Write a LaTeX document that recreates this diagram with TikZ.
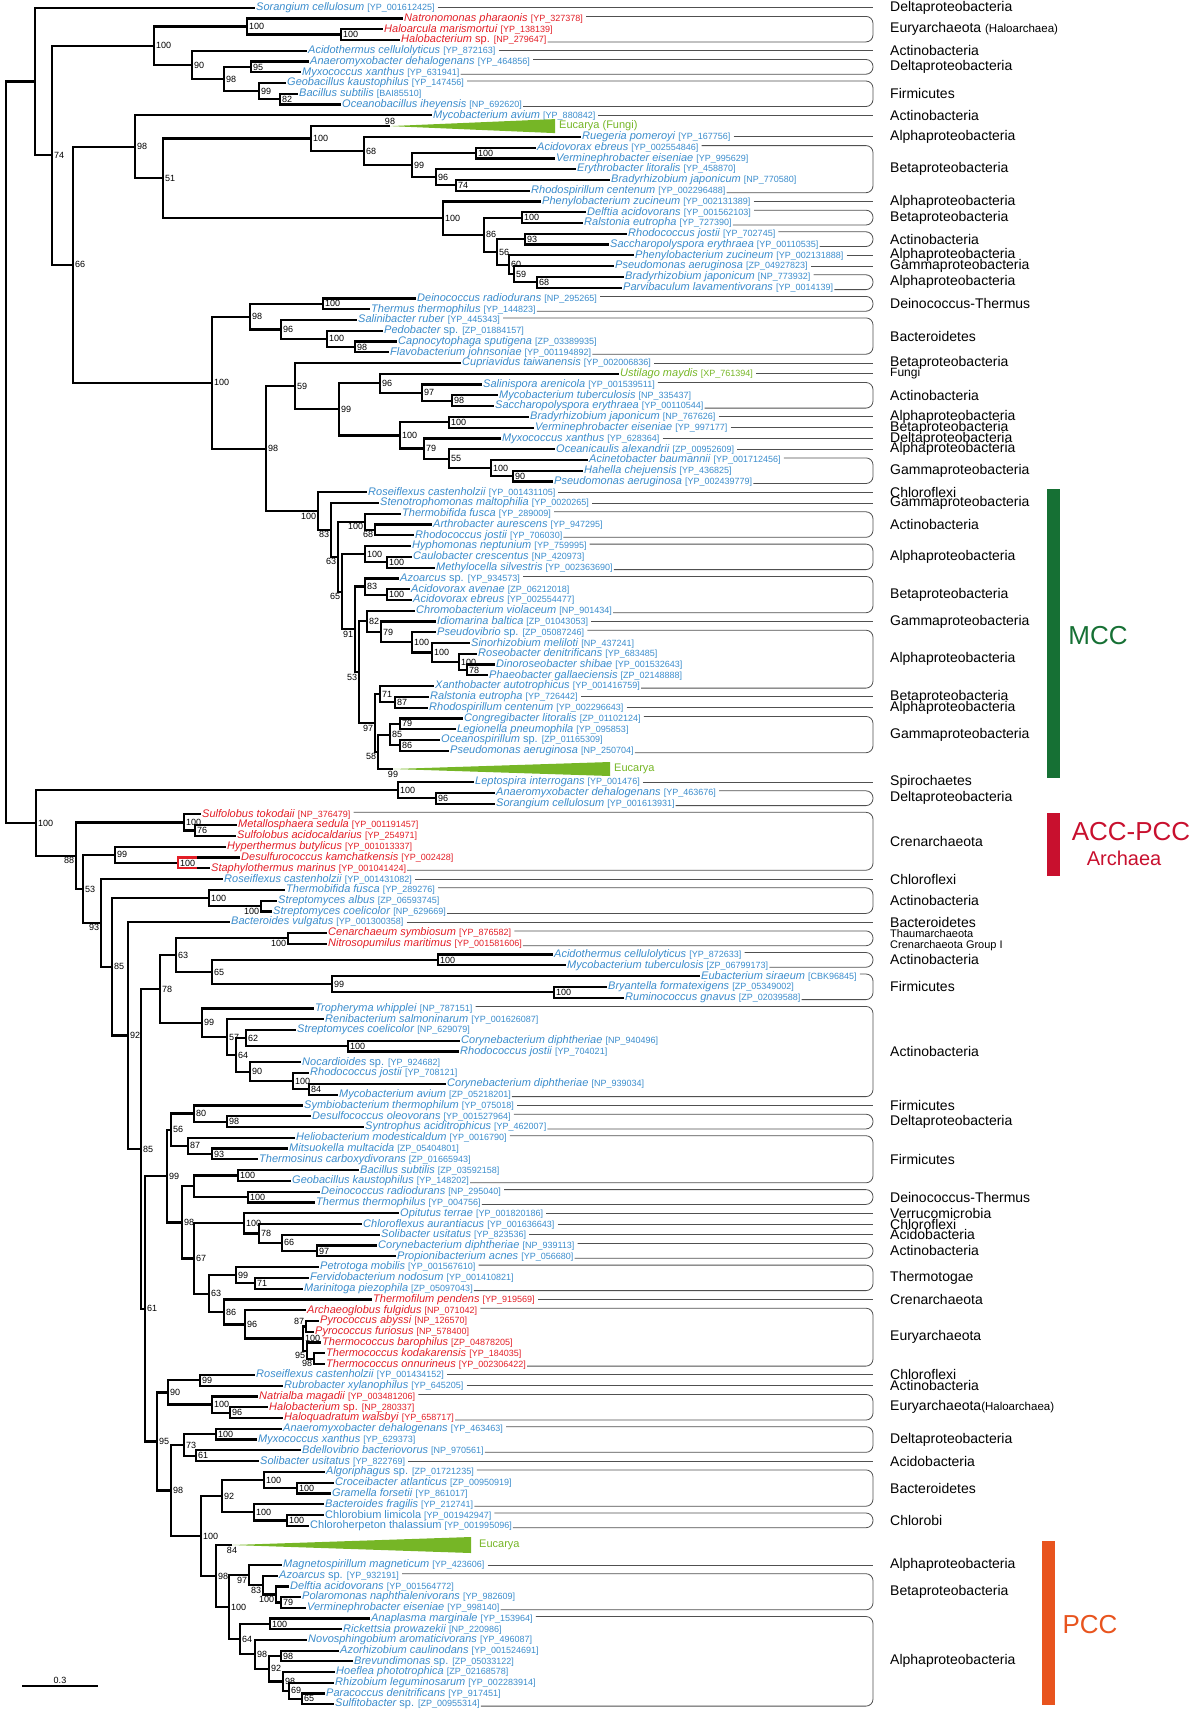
\documentclass[tikz,border=0pt]{standalone}
\usepackage{fontspec}
\setmainfont{Liberation Sans}
\usepackage{xcolor}
\usepackage{tikz}

\definecolor{bact}{RGB}{58,140,204}
\definecolor{arch}{RGB}{226,30,38}
\definecolor{euk}{RGB}{118,182,38}
\definecolor{mccgreen}{RGB}{22,112,52}
\definecolor{accred}{RGB}{200,16,46}
\definecolor{pccorange}{RGB}{232,84,30}
\definecolor{linegray}{RGB}{80,80,80}

\newcommand{\leaffont}{\fontsize{11}{12}\selectfont}
\newcommand{\accfont}{\fontsize{9}{10}\selectfont}
\newcommand{\bsfont}{\fontsize{9}{10}\selectfont}
\newcommand{\grpfont}{\fontsize{14}{15}\selectfont}
\newcommand{\tx}[2]{\textit{#1} {\accfont[#2]}}
\newcommand{\txu}[2]{#1 {\accfont[#2]}}
% leaf: colour, name, x, y, text
\newcommand{\lf}[5][bact]{\coordinate (#2) at (#3,#4);
  \node[leaf,text=#1] (#2t) at (#2) {#5};}
% inner node: label position, name, x, y, support
\newcommand{\nd}[5][right]{\coordinate[label={[bs,name=#2-bs]#1:#5}] (#2) at (#3,#4);}
% right-hand taxon labels
\newcommand{\gone}[2]{\draw[con] (#1t.east) -- (#1t.east -| rx);
  \node[grplab] (#1g) at (gx |- #1) {#2};}
\newcommand{\gtwo}[4]{\draw[con] ([yshift=2pt]#1t.east) -- ([yshift=2pt]#1t.east -| rx)
  -- ([yshift=-2pt]#2t.east -| rx) -- ([yshift=-2pt]#2t.east);
  \node[grplab] (#1g) at (890,#3) {#4};}

\tikzset{
  leaf/.style={anchor=west, inner sep=1pt, font=\leaffont},
  bs/.style={inner sep=1pt, font=\bsfont},
  br/.style={line width=2.2pt},
  con/.style={draw=linegray, line width=0.8pt, rounded corners=7pt, shorten <=2pt},
  grplab/.style={anchor=west, inner sep=0pt, font=\grpfont},
  bigtxt/.style={inner sep=0pt, font=\fontsize{26}{28}\selectfont},
}

\begin{document}
\begin{tikzpicture}[x=1pt, y=-1pt, label distance=0.8pt]
\useasboundingbox (0,0) rectangle (1200,1711);
\coordinate (rx) at (873,0);
\coordinate (gx) at (890,0);

% ---------------- leaves, upper part
\lf{sor1}{255}{7.6}{\tx{Sorangium cellulosum}{YP\_001612425}}
\lf[arch]{nat}{403}{18.4}{\tx{Natronomonas pharaonis}{YP\_327378}}
\lf[arch]{har}{383}{29.1}{\tx{Haloarcula marismortui}{YP\_138139}}
\lf[arch]{hal1}{400}{39.9}{\tx{Halobacterium \upshape sp.}{NP\_279647}}
\lf{aci1}{307}{50.7}{\tx{Acidothermus cellulolyticus}{YP\_872163}}
\lf{ana1}{309}{61.5}{\tx{Anaeromyxobacter dehalogenans}{YP\_464856}}
\lf{myx1}{301}{72.2}{\tx{Myxococcus xanthus}{YP\_631941}}
\lf{geo1}{286}{83.0}{\tx{Geobacillus kaustophilus}{YP\_147456}}
\lf{bac1}{298}{93.8}{\tx{Bacillus subtilis}{BAI85510}}
\lf{oce}{341}{104.5}{\tx{Oceanobacillus iheyensis}{NP\_692620}}
\lf{myc1}{432}{115.3}{\tx{Mycobacterium avium}{YP\_880842}}
\lf{rue}{581}{136.8}{\tx{Ruegeria pomeroyi}{YP\_167756}}
\lf{acd1}{536}{147.6}{\tx{Acidovorax ebreus}{YP\_002554846}}
\lf{ver1}{555}{158.4}{\tx{Verminephrobacter eiseniae}{YP\_995629}}
\lf{ery}{576}{169.1}{\tx{Erythrobacter litoralis}{YP\_458870}}
\lf{bra1}{610}{179.9}{\tx{Bradyrhizobium japonicum}{NP\_770580}}
\lf{rho1}{530}{190.7}{\tx{Rhodospirillum centenum}{YP\_002296488}}
\lf{phe1}{541}{201.5}{\tx{Phenylobacterium zucineum}{YP\_002131389}}
\lf{del1}{586}{212.2}{\tx{Delftia acidovorans}{YP\_001562103}}
\lf{ral1}{583}{223.0}{\tx{Ralstonia eutropha}{YP\_727390}}
\lf{rhc1}{627}{233.8}{\tx{Rhodococcus jostii}{YP\_702745}}
\lf{sac1}{609}{244.5}{\tx{Saccharopolyspora erythraea}{YP\_00110535}}
\lf{phe2}{634}{255.3}{\tx{Phenylobacterium zucineum}{YP\_002131888}}
\lf{pse1}{614}{266.1}{\tx{Pseudomonas aeruginosa}{ZP\_04927823}}
\lf{bra2}{624}{276.8}{\tx{Bradyrhizobium japonicum}{NP\_773932}}
\lf{par}{622}{287.6}{\tx{Parvibaculum lavamentivorans}{YP\_0014139}}
\lf{dei1}{416}{298.4}{\tx{Deinococcus radiodurans}{NP\_295265}}
\lf{the1}{370}{309.2}{\tx{Thermus thermophilus}{YP\_144823}}
\lf{sal}{357}{319.9}{\tx{Salinibacter ruber}{YP\_445343}}
\lf{ped}{383}{330.7}{\tx{Pedobacter \upshape sp.}{ZP\_01884157}}
\lf{cap}{397}{341.5}{\tx{Capnocytophaga sputigena}{ZP\_03389935}}
\lf{fla}{389}{352.2}{\tx{Flavobacterium johnsoniae}{YP\_001194892}}
\lf{cup}{461}{363.0}{\tx{Cupriavidus taiwanensis}{YP\_002006836}}
\lf[euk]{ust}{619}{373.8}{\tx{Ustilago maydis}{XP\_761394}}
\lf{sap}{482}{384.5}{\tx{Salinispora arenicola}{YP\_001539511}}
\lf{myc2}{498}{395.3}{\tx{Mycobacterium tuberculosis}{NP\_335437}}
\lf{sac2}{494}{406.1}{\tx{Saccharopolyspora erythraea}{YP\_00110544}}
\lf{bra3}{529}{416.8}{\tx{Bradyrhizobium japonicum}{NP\_767626}}
\lf{ver2}{534}{427.6}{\tx{Verminephrobacter eiseniae}{YP\_997177}}
\lf{myx2}{501}{438.4}{\tx{Myxococcus xanthus}{YP\_628364}}
\lf{ocn}{555}{449.2}{\tx{Oceanicaulis alexandrii}{ZP\_00952609}}
\lf{acn}{588}{459.9}{\tx{Acinetobacter baumannii}{YP\_001712456}}
\lf{hah}{583}{470.7}{\tx{Hahella chejuensis}{YP\_436825}}
\lf{pse2}{553}{481.5}{\tx{Pseudomonas aeruginosa}{YP\_002439779}}
\lf{ros1}{367}{492.2}{\tx{Roseiflexus castenholzii}{YP\_001431105}}
\lf{ste}{379}{503.0}{\tx{Stenotrophomonas maltophilia}{YP\_0020265}}
\lf{thf1}{401}{513.8}{\tx{Thermobifida fusca}{YP\_289009}}
\lf{art}{432}{524.5}{\tx{Arthrobacter aurescens}{YP\_947295}}
\lf{rhc2}{414}{535.3}{\tx{Rhodococcus jostii}{YP\_706030}}
\lf{hyp}{411}{546.1}{\tx{Hyphomonas neptunium}{YP\_759995}}
\lf{cau}{412}{556.8}{\tx{Caulobacter crescentus}{NP\_420973}}
\lf{met}{435}{567.6}{\tx{Methylocella silvestris}{YP\_002363690}}
\lf{azo1}{399}{578.4}{\tx{Azoarcus \upshape sp.}{YP\_934573}}
\lf{acd2}{410}{589.2}{\tx{Acidovorax avenae}{ZP\_06212018}}
\lf{acd3}{412}{599.9}{\tx{Acidovorax ebreus}{YP\_002554477}}
\lf{chr}{415}{610.7}{\tx{Chromobacterium violaceum}{NP\_901434}}
\lf{idi}{436}{621.5}{\tx{Idiomarina baltica}{ZP\_01043053}}
\lf{psv}{436}{632.2}{\tx{Pseudovibrio \upshape sp.}{ZP\_05087246}}
\lf{sin}{470}{643.0}{\tx{Sinorhizobium meliloti}{NP\_437241}}
\lf{rsb}{477}{653.8}{\tx{Roseobacter denitrificans}{YP\_683485}}
\lf{din}{495}{664.5}{\tx{Dinoroseobacter shibae}{YP\_001532643}}
\lf{pha}{488}{675.3}{\tx{Phaeobacter gallaeciensis}{ZP\_02148888}}
\lf{xan}{434}{686.1}{\tx{Xanthobacter autotrophicus}{YP\_001416759}}
\lf{ral2}{429}{696.8}{\tx{Ralstonia eutropha}{YP\_726442}}
\lf{rho2}{428}{707.6}{\tx{Rhodospirillum centenum}{YP\_002296643}}
\lf{con}{463}{718.4}{\tx{Congregibacter litoralis}{ZP\_01102124}}
\lf{leg}{456}{729.2}{\tx{Legionella pneumophila}{YP\_095853}}
\lf{ocs}{440}{739.9}{\tx{Oceanospirillum \upshape sp.}{ZP\_01165309}}
\lf{pse3}{449}{750.7}{\tx{Pseudomonas aeruginosa}{NP\_250704}}
\lf{lep}{474}{782.0}{\tx{Leptospira interrogans}{YP\_001476}}
\lf{ana2}{495}{792.8}{\tx{Anaeromyxobacter dehalogenans}{YP\_463676}}
\lf{sor2}{495}{803.6}{\tx{Sorangium cellulosum}{YP\_001613931}}

% ---------------- leaves, lower part
\lf[arch]{sut}{201}{814.3}{\tx{Sulfolobus tokodaii}{NP\_376479}}
\lf[arch]{mes}{237}{825.1}{\tx{Metallosphaera sedula}{YP\_001191457}}
\lf[arch]{sua}{236}{835.9}{\tx{Sulfolobus acidocaldarius}{YP\_254971}}
\lf[arch]{hyt}{226}{846.7}{\tx{Hyperthermus butylicus}{YP\_001013337}}
\lf[arch]{dsk}{240}{857.5}{\tx{Desulfurococcus kamchatkensis}{YP\_002428}}
\lf[arch]{stm}{210}{868.2}{\tx{Staphylothermus marinus}{YP\_001041424}}
\lf{ros2}{223}{879.0}{\tx{Roseiflexus castenholzii}{YP\_001431082}}
\lf{thf2}{285}{889.8}{\tx{Thermobifida fusca}{YP\_289276}}
\lf{sta}{277}{900.6}{\tx{Streptomyces albus}{ZP\_06593745}}
\lf{stc1}{272}{911.4}{\tx{Streptomyces coelicolor}{NP\_629669}}
\lf{bav}{230}{922.1}{\tx{Bacteroides vulgatus}{YP\_001300358}}
\lf[arch]{cen}{327}{932.9}{\tx{Cenarchaeum symbiosum}{YP\_876582}}
\lf[arch]{nit}{327}{943.7}{\tx{Nitrosopumilus maritimus}{YP\_001581606}}
\lf{aci2}{553}{954.5}{\tx{Acidothermus cellulolyticus}{YP\_872633}}
\lf{myc3}{566}{965.2}{\tx{Mycobacterium tuberculosis}{ZP\_06799173}}
\lf{eub}{700}{976.0}{\tx{Eubacterium siraeum}{CBK96845}}
\lf{bry}{607}{986.8}{\tx{Bryantella formatexigens}{ZP\_05349002}}
\lf{rum}{624}{997.6}{\tx{Ruminococcus gnavus}{ZP\_02039588}}
\lf{tro}{314}{1008.4}{\tx{Tropheryma whipplei}{NP\_787151}}
\lf{ren}{324}{1019.2}{\tx{Renibacterium salmoninarum}{YP\_001626087}}
\lf{stc2}{296}{1029.9}{\tx{Streptomyces coelicolor}{NP\_629079}}
\lf{cor1}{460}{1040.7}{\tx{Corynebacterium diphtheriae}{NP\_940496}}
\lf{rhc3}{459}{1051.5}{\tx{Rhodococcus jostii}{YP\_704021}}
\lf{noc}{301}{1062.3}{\tx{Nocardioides \upshape sp.}{YP\_924682}}
\lf{rhc4}{309}{1073.1}{\tx{Rhodococcus jostii}{YP\_708121}}
\lf{cor2}{446}{1083.8}{\tx{Corynebacterium diphtheriae}{NP\_939034}}
\lf{myc4}{338}{1094.6}{\tx{Mycobacterium avium}{ZP\_05218201}}
\lf{sym}{303}{1105.4}{\tx{Symbiobacterium thermophilum}{YP\_075018}}
\lf{dso}{311}{1116.2}{\tx{Desulfococcus oleovorans}{YP\_001527964}}
\lf{syn}{364}{1126.9}{\tx{Syntrophus aciditrophicus}{YP\_462007}}
\lf{hel}{295}{1137.7}{\tx{Heliobacterium modesticaldum}{YP\_0016790}}
\lf{mit}{288}{1148.5}{\tx{Mitsuokella multacida}{ZP\_05404801}}
\lf{ths}{258}{1159.3}{\tx{Thermosinus carboxydivorans}{ZP\_01665943}}
\lf{bac2}{359}{1170.1}{\tx{Bacillus subtilis}{ZP\_03592158}}
\lf{geo2}{291}{1180.8}{\tx{Geobacillus kaustophilus}{YP\_148202}}
\lf{dei2}{320}{1191.6}{\tx{Deinococcus radiodurans}{NP\_295040}}
\lf{the2}{315}{1202.4}{\tx{Thermus thermophilus}{YP\_004756}}
\lf{opi}{399}{1213.2}{\tx{Opitutus terrae}{YP\_001820186}}
\lf{chf}{362}{1224.0}{\tx{Chloroflexus aurantiacus}{YP\_001636643}}
\lf{sol1}{380}{1234.7}{\tx{Solibacter usitatus}{YP\_823536}}
\lf{cor3}{377}{1245.5}{\tx{Corynebacterium diphtheriae}{NP\_939113}}
\lf{pro}{396}{1256.3}{\tx{Propionibacterium acnes}{YP\_056680}}
\lf{pet}{319}{1267.1}{\tx{Petrotoga mobilis}{YP\_001567610}}
\lf{fer}{309}{1277.8}{\tx{Fervidobacterium nodosum}{YP\_001410821}}
\lf{mar}{303}{1288.6}{\tx{Marinitoga piezophila}{ZP\_05097043}}
\lf[arch]{tfp}{372}{1299.4}{\tx{Thermofilum pendens}{YP\_919569}}
\lf[arch]{arg}{306}{1310.2}{\tx{Archaeoglobus fulgidus}{NP\_071042}}
\lf[arch]{pya}{319}{1321.0}{\tx{Pyrococcus abyssi}{NP\_126570}}
\lf[arch]{pyf}{314}{1331.7}{\tx{Pyrococcus furiosus}{NP\_578400}}
\lf[arch]{tcb}{321}{1342.5}{\tx{Thermococcus barophilus}{ZP\_04878205}}
\lf[arch]{tck}{325}{1353.3}{\tx{Thermococcus kodakarensis}{YP\_184035}}
\lf[arch]{tco}{325}{1364.1}{\tx{Thermococcus onnurineus}{YP\_002306422}}
\lf{ros3}{255}{1374.8}{\tx{Roseiflexus castenholzii}{YP\_001434152}}
\lf{rub}{283}{1385.6}{\tx{Rubrobacter xylanophilus}{YP\_645205}}
\lf[arch]{nab}{258}{1396.4}{\tx{Natrialba magadii}{YP\_003481206}}
\lf[arch]{hal2}{268}{1407.2}{\tx{Halobacterium \upshape sp.}{NP\_280337}}
\lf[arch]{hqw}{283}{1418.0}{\tx{Haloquadratum walsbyi}{YP\_658717}}
\lf{ana3}{282}{1428.7}{\tx{Anaeromyxobacter dehalogenans}{YP\_463463}}
\lf{myx3}{257}{1439.5}{\tx{Myxococcus xanthus}{YP\_629373}}
\lf{bde}{301}{1450.3}{\tx{Bdellovibrio bacteriovorus}{NP\_970561}}
\lf{sol2}{259}{1461.1}{\tx{Solibacter usitatus}{YP\_822769}}
\lf{alg}{325}{1471.9}{\tx{Algoriphagus \upshape sp.}{ZP\_01721235}}
\lf{cro}{334}{1482.6}{\tx{Croceibacter atlanticus}{ZP\_00950919}}
\lf{gra}{331}{1493.4}{\tx{Gramella forsetii}{YP\_861017}}
\lf{baf}{324}{1504.2}{\tx{Bacteroides fragilis}{YP\_212741}}
\lf{chl}{324}{1515.0}{\txu{Chlorobium limicola}{YP\_001942947}}
\lf{chh}{309}{1525.7}{\txu{Chloroherpeton thalassium}{YP\_001995096}}
\lf{mag}{282}{1565.0}{\tx{Magnetospirillum magneticum}{YP\_423606}}
\lf{azo2}{278}{1575.7}{\tx{Azoarcus \upshape sp.}{YP\_932191}}
\lf{del2}{289}{1586.4}{\tx{Delftia acidovorans}{YP\_001564772}}
\lf{pol}{301}{1597.1}{\tx{Polaromonas naphthalenivorans}{YP\_982609}}
\lf{ver3}{306}{1607.8}{\tx{Verminephrobacter eiseniae}{YP\_998140}}
\lf{ana4}{370}{1618.5}{\tx{Anaplasma marginale}{YP\_153964}}
\lf{ric}{342}{1629.2}{\tx{Rickettsia prowazekii}{NP\_220986}}
\lf{nov}{307}{1639.9}{\tx{Novosphingobium aromaticivorans}{YP\_496087}}
\lf{azr}{339}{1650.6}{\tx{Azorhizobium caulinodans}{YP\_001524691}}
\lf{bre}{353}{1661.3}{\tx{Brevundimonas \upshape sp.}{ZP\_05033122}}
\lf{hoe}{335}{1672.0}{\tx{Hoeflea phototrophica}{ZP\_02168578}}
\lf{rhz}{334}{1682.7}{\tx{Rhizobium leguminosarum}{YP\_002283914}}
\lf{prc}{325}{1693.4}{\tx{Paracoccus denitrificans}{YP\_917451}}
\lf{sul}{334}{1704.1}{\tx{Sulfitobacter \upshape sp.}{ZP\_00955314}}

% ---------------- collapsed Eucarya clades
\nd[above]{euk1}{390}{126.1}{98}
\nd[below]{euk2}{393}{769}{99}
\nd[below]{euk3}{232}{1545}{84}
\fill[euk] (euk1) -- ++(165,-7) -- ++(0,14) -- cycle;
\fill[euk] (euk2) -- ++(217,-7) -- ++(0,14) -- cycle;
\fill[euk] (euk3) -- ++(239,-8) -- ++(0,16) -- cycle;
\node[leaf,text=euk] (euk1t) at ([xshift=168pt]euk1) {Eucarya (Fungi)};
\node[leaf,text=euk] (euk2t) at ([xshift=220pt]euk2) {Eucarya};
\node[leaf,text=euk] (euk3t) at ([xshift=246pt]euk3) {Eucarya};

% ---------------- inner nodes, upper part
\coordinate (root) at (6,452);
\coordinate (top) at (35,81.4);
\nd{a74}{52}{155.2}{74}
\nd{a100h}{154}{45.7}{100}
\nd{halo}{247}{26.5}{100}
\nd{halo2}{341}{34.5}{100}
\nd{a90}{192}{64.9}{90}
\nd{a98f}{224}{79}{98}
\nd{myxo}{251}{66.9}{95}
\nd{bacil}{259}{91.1}{99}
\nd{bacil2}{280}{99.2}{82}
\nd{a66}{73}{264.7}{66}
\nd{a98}{135}{146.8}{98}
\nd{a51}{163}{178.3}{51}
\nd{fungi}{311}{138.5}{100}
\nd{a68}{364}{151}{68}
\nd{a99}{412}{165.1}{99}
\nd{beta1}{476}{153}{100}
\nd{a96}{436}{177.2}{96}
\nd{a74b}{456}{185.3}{74}
\nd{a100c}{443}{218.2}{100}
\nd{a86}{484}{234.8}{86}
\nd{beta2}{522}{217.6}{100}
\nd{a56}{497}{252}{56}
\nd{actino1}{525}{239.2}{93}
\nd{a60}{509}{264.7}{60}
\nd{a59}{514}{274.2}{59}
\nd{a68b}{537}{282.2}{68}
\nd{a100b}{212}{382.6}{100}
\nd{a98b}{250}{316.6}{98}
\nd{deino1}{323}{303.8}{100}
\nd{a96b}{281}{329.4}{96}
\nd{a100f}{327}{338.8}{100}
\nd{a98d}{355}{346.9}{98}
\nd{a98c}{266}{448.6}{98}
\nd{a59b}{295}{386.2}{59}
\nd{a99b}{339}{409.3}{99}
\nd{a96c}{380}{383.2}{96}
\nd{a97}{422}{392.6}{97}
\nd{a98e}{452}{400.7}{98}
\nd{a100h2}{400}{435.4}{100}
\nd{a100i}{449}{422.2}{100}
\nd{a79}{424}{448.5}{79}
\nd{a55}{449}{458.6}{55}
\nd{gamma1}{491}{468}{100}
\nd{a90b}{513}{476.1}{90}
% MCC clade
\nd[below left]{mcc}{318}{511}{100}
\nd[below left]{m83}{331}{529.9}{83}
\nd[below left]{m63}{338}{556.8}{63}
\nd[below left]{actino2}{365}{521.9}{100}
\nd[below left]{m68}{375}{529.9}{68}
\nd[below left]{m65}{342}{591.6}{65}
\nd{alpha1}{365}{554.2}{100}
\nd{m100}{387}{562.2}{100}
\nd[below left]{m91}{355}{629}{91}
\nd{beta3}{365}{586.5}{83}
\nd{m100b}{387}{594.6}{100}
\nd[below left]{m53}{359}{672}{53}
\nd{m82}{367}{621.3}{82}
\nd{m79}{381}{631.9}{79}
\nd{roseo1}{412}{642.3}{100}
\nd{roseo2}{432}{652.4}{100}
\nd{roseo3}{459}{661.9}{100}
\nd{roseo4}{467}{669.9}{78}
\nd[below left]{m97}{375}{723}{97}
\nd{m71}{380}{694.2}{71}
\nd{m87}{395}{702.2}{87}
\nd[below left]{m58}{378}{751.8}{58}
\nd{gamma2}{390}{734.6}{85}
\nd{m79b}{400}{723.8}{79}
\nd{m86}{400}{745.3}{86}

% ---------------- inner nodes, lower part
\nd{bot}{36}{822.9}{100}
\nd{spiro}{398}{790.1}{100}
\nd{delta1}{436}{798.2}{96}
\nd[below left]{b88}{76}{855.6}{88}
\nd{sulfo}{184}{822.4}{100}
\nd{sulfo2}{195}{830.5}{76}
\nd{b53}{83}{888.9}{53}
\nd{desulf}{115}{854.8}{99}
\nd{desulf2}{178}{862.9}{100}
\nd[below left]{b93}{101}{922.9}{93}
\nd{b85}{112}{966.7}{85}
\nd{strep}{209}{897.9}{100}
\nd[below left]{strep2}{261}{906}{100}
\nd{b92}{128}{1035.5}{92}
\nd{b85b}{141}{1148.9}{85}
\nd{b78}{160}{989}{78}
\nd{b63}{176}{955.2}{63}
\nd[below left]{thaum}{288}{938.3}{100}
\nd{b65}{212}{972}{65}
\nd{actino4}{438}{959.9}{100}
\nd{firm1}{332}{984.1}{99}
\nd{firm2}{554}{992.2}{100}
\nd{actino3}{202}{1022.7}{99}
\nd{b57}{227}{1037}{57}
\nd{b64}{236}{1054.9}{64}
\nd{b62}{246}{1038}{62}
\nd{coryn1}{348}{1046.1}{100}
\nd{b90}{250}{1071.8}{90}
\nd{coryn2}{293}{1081.2}{100}
\nd{coryn3}{309}{1089.2}{84}
\nd{b61}{145}{1308.7}{61}
\nd{b99}{167}{1176}{99}
\nd{b56}{171}{1129.7}{56}
\nd{b80}{194}{1113.5}{80}
\nd{delta2}{227}{1121.6}{98}
\nd{b87}{188}{1145.8}{87}
\nd{b93b}{212}{1153.9}{93}
\nd{b98}{182}{1222.4}{98}
\coordinate (bq) at (194,1186.2);
\nd{bacil3}{238}{1175.5}{100}
\nd{deino2}{248}{1197}{100}
\nd{b67}{194}{1258.5}{67}
\nd{b100}{244}{1223.3}{100}
\nd{b78b}{259}{1233.4}{78}
\nd{b66}{282}{1242.8}{66}
\nd{b97}{317}{1250.9}{97}
\nd{b63b}{209}{1293.6}{63}
\nd{thermo}{236}{1275.2}{99}
\nd{thermo2}{255}{1283.2}{71}
\nd{b86}{224}{1311.9}{86}
\nd{b96}{245}{1324.4}{96}
\nd{pyro}{303}{1338.5}{100}
\nd[above left]{pyro2}{306}{1326.4}{87}
\nd[below left]{tcoc}{307}{1350.6}{95}
\nd[below left]{tcoc2}{314}{1358.7}{98}
\nd{b95}{157}{1441.4}{95}
\nd{b90b}{168}{1392.4}{90}
\nd{b99b}{200}{1380.2}{99}
\nd{halo3}{212}{1404.5}{100}
\nd{halo4}{230}{1412.6}{96}
\nd{b98b}{171}{1490.5}{98}
\nd{b73}{184}{1444.9}{73}
\nd{myxo2}{216}{1434.1}{100}
\nd{b61b}{196}{1455.7}{61}
\nd{b100b}{201}{1536}{100}
\nd{b92b}{222}{1496.2}{92}
\nd{bacter1}{264}{1480}{100}
\nd{bacter2}{297}{1488}{100}
\nd{bacter3}{254}{1512.3}{100}
\nd{chlor}{287}{1520.4}{100}
\nd{b98c}{216}{1576}{98}
\nd{pcc}{229}{1607}{100}
\nd[below left]{p97}{249}{1575}{97}
\nd[below left]{p83}{263}{1585.1}{83}
\nd[below left]{p100}{276}{1594.5}{100}
\nd{p79}{281}{1602.5}{79}
\nd{p64}{240}{1639.1}{64}
\nd{rick}{270}{1623.9}{100}
\nd{p98}{255}{1654.3}{98}
\nd{p92}{269}{1668.7}{92}
\nd{p98b}{281}{1656}{98}
\nd{p98c}{283}{1681.4}{98}
\nd{p69}{289}{1690.8}{69}
\nd{p65}{302}{1698.8}{65}

% ---------------- branches
\draw[br] (root) |- (top) (root) |- (bot);
\draw[br] (top) |- (sor1) (top) |- (a74);
\draw[br] (a74) |- (a100h) (a74) |- (a66);
\draw[br] (a100h) |- (halo) (a100h) |- (a90);
\draw[br] (halo) |- (nat) (halo) |- (halo2);
\draw[br] (halo2) |- (har) (halo2) |- (hal1);
\draw[br] (a90) |- (aci1) (a90) |- (a98f);
\draw[br] (a98f) |- (myxo) (a98f) |- (bacil);
\draw[br] (myxo) |- (ana1) (myxo) |- (myx1);
\draw[br] (bacil) |- (geo1) (bacil) |- (bacil2);
\draw[br] (bacil2) |- (bac1) (bacil2) |- (oce);
\draw[br] (a66) |- (a98) (a66) |- (a100b);
\draw[br] (a98) |- (myc1) (a98) |- (a51);
\draw[br] (a51) |- (fungi) (a51) |- (a100c);
\draw[br] (fungi) |- (euk1) (fungi) |- (a68);
\draw[br] (a68) |- (rue) (a68) |- (a99);
\draw[br] (a99) |- (beta1) (a99) |- (a96);
\draw[br] (beta1) |- (acd1) (beta1) |- (ver1);
\draw[br] (a96) |- (ery) (a96) |- (a74b);
\draw[br] (a74b) |- (bra1) (a74b) |- (rho1);
\draw[br] (a100c) |- (phe1) (a100c) |- (a86);
\draw[br] (a86) |- (beta2) (a86) |- (a56);
\draw[br] (beta2) |- (del1) (beta2) |- (ral1);
\draw[br] (a56) |- (actino1) (a56) |- (a60);
\draw[br] (actino1) |- (rhc1) (actino1) |- (sac1);
\draw[br] (a60) |- (phe2) (a60) |- (a59);
\draw[br] (a59) |- (pse1) (a59) |- (a68b);
\draw[br] (a68b) |- (bra2) (a68b) |- (par);
\draw[br] (a100b) |- (a98b) (a100b) |- (a98c);
\draw[br] (a98b) |- (deino1) (a98b) |- (a96b);
\draw[br] (deino1) |- (dei1) (deino1) |- (the1);
\draw[br] (a96b) |- (sal) (a96b) |- (a100f);
\draw[br] (a100f) |- (ped) (a100f) |- (a98d);
\draw[br] (a98d) |- (cap) (a98d) |- (fla);
\draw[br] (a98c) |- (a59b) (a98c) |- (mcc);
\draw[br] (a59b) |- (cup) (a59b) |- (a99b);
\draw[br] (a99b) |- (a96c) (a99b) |- (a100h2);
\draw[br] (a96c) |- (ust) (a96c) |- (a97);
\draw[br] (a97) |- (sap) (a97) |- (a98e);
\draw[br] (a98e) |- (myc2) (a98e) |- (sac2);
\draw[br] (a100h2) |- (a100i) (a100h2) |- (a79);
\draw[br] (a100i) |- (bra3) (a100i) |- (ver2);
\draw[br] (a79) |- (myx2) (a79) |- (a55);
\draw[br] (a55) |- (ocn) (a55) |- (gamma1);
\draw[br] (gamma1) |- (acn) (gamma1) |- (a90b);
\draw[br] (a90b) |- (hah) (a90b) |- (pse2);
\draw[br] (mcc) |- (ros1) (mcc) |- (m83);
\draw[br] (m83) |- (ste) (m83) |- (m63);
\draw[br] (m63) |- (actino2) (m63) |- (m65);
\draw[br] (actino2) |- (thf1) (actino2) |- (m68);
\draw[br] (m68) |- (art) (m68) |- (rhc2);
\draw[br] (m65) |- (alpha1) (m65) |- (m91);
\draw[br] (alpha1) |- (hyp) (alpha1) |- (m100);
\draw[br] (m100) |- (cau) (m100) |- (met);
\draw[br] (m91) |- (beta3) (m91) |- (m53);
\draw[br] (beta3) |- (azo1) (beta3) |- (m100b);
\draw[br] (m100b) |- (acd2) (m100b) |- (acd3);
\draw[br] (m53) |- (m82) (m53) |- (m97);
\draw[br] (m82) |- (chr) (m82) |- (m79);
\draw[br] (m79) |- (idi) (m79) |- (roseo1);
\draw[br] (roseo1) |- (psv) (roseo1) |- (roseo2);
\draw[br] (roseo2) |- (sin) (roseo2) |- (roseo3);
\draw[br] (roseo3) |- (rsb) (roseo3) |- (roseo4);
\draw[br] (roseo4) |- (din) (roseo4) |- (pha);
\draw[br] (m97) |- (m71) (m97) |- (m58);
\draw[br] (m71) |- (xan) (m71) |- (m87);
\draw[br] (m87) |- (ral2) (m87) |- (rho2);
\draw[br] (m58) |- (gamma2) (m58) |- (euk2);
\draw[br] (gamma2) |- (m79b) (gamma2) |- (m86);
\draw[br] (m79b) |- (con) (m79b) |- (leg);
\draw[br] (m86) |- (ocs) (m86) |- (pse3);
\draw[br] (bot) |- (spiro) (bot) |- (b88);
\draw[br] (spiro) |- (lep) (spiro) |- (delta1);
\draw[br] (delta1) |- (ana2) (delta1) |- (sor2);
\draw[br] (b88) |- (sulfo) (b88) |- (b53);
\draw[br] (sulfo) |- (sut) (sulfo) |- (sulfo2);
\draw[br] (sulfo2) |- (mes) (sulfo2) |- (sua);
\draw[br] (b53) |- (desulf) (b53) |- (b93);
\draw[br] (desulf) |- (hyt) (desulf) |- (desulf2);
\draw[br] (desulf2) |- (dsk) (desulf2) |- (stm);
\draw[br] (b93) |- (ros2) (b93) |- (b85);
\draw[br] (b85) |- (strep) (b85) |- (b92);
\draw[br] (strep) |- (thf2) (strep) |- (strep2);
\draw[br] (strep2) |- (sta) (strep2) |- (stc1);
\draw[br] (b92) |- (bav) (b92) |- (b85b);
\draw[br] (b85b) |- (b78) (b85b) |- (b61);
\draw[br] (b78) |- (b63) (b78) |- (actino3);
\draw[br] (b63) |- (thaum) (b63) |- (b65);
\draw[br] (thaum) |- (cen) (thaum) |- (nit);
\draw[br] (b65) |- (actino4) (b65) |- (firm1);
\draw[br] (actino4) |- (aci2) (actino4) |- (myc3);
\draw[br] (firm1) |- (eub) (firm1) |- (firm2);
\draw[br] (firm2) |- (bry) (firm2) |- (rum);
\draw[br] (actino3) |- (tro) (actino3) |- (b57);
\draw[br] (b57) |- (ren) (b57) |- (b64);
\draw[br] (b64) |- (b62) (b64) |- (b90);
\draw[br] (b62) |- (stc2) (b62) |- (coryn1);
\draw[br] (coryn1) |- (cor1) (coryn1) |- (rhc3);
\draw[br] (b90) |- (noc) (b90) |- (coryn2);
\draw[br] (coryn2) |- (rhc4) (coryn2) |- (coryn3);
\draw[br] (coryn3) |- (cor2) (coryn3) |- (myc4);
\draw[br] (b61) |- (b99) (b61) |- (b95);
\draw[br] (b99) |- (b56) (b99) |- (b98);
\draw[br] (b56) |- (b80) (b56) |- (b87);
\draw[br] (b80) |- (sym) (b80) |- (delta2);
\draw[br] (delta2) |- (dso) (delta2) |- (syn);
\draw[br] (b87) |- (hel) (b87) |- (b93b);
\draw[br] (b93b) |- (mit) (b93b) |- (ths);
\draw[br] (b98) |- (bq) (b98) |- (b67);
\draw[br] (bq) |- (bacil3) (bq) |- (deino2);
\draw[br] (bacil3) |- (bac2) (bacil3) |- (geo2);
\draw[br] (deino2) |- (dei2) (deino2) |- (the2);
\draw[br] (b67) |- (b100) (b67) |- (b63b);
\draw[br] (b100) |- (opi) (b100) |- (b78b);
\draw[br] (b78b) |- (chf) (b78b) |- (b66);
\draw[br] (b66) |- (sol1) (b66) |- (b97);
\draw[br] (b97) |- (cor3) (b97) |- (pro);
\draw[br] (b63b) |- (thermo) (b63b) |- (b86);
\draw[br] (thermo) |- (pet) (thermo) |- (thermo2);
\draw[br] (thermo2) |- (fer) (thermo2) |- (mar);
\draw[br] (b86) |- (tfp) (b86) |- (b96);
\draw[br] (b96) |- (arg) (b96) |- (pyro);
\draw[br] (pyro) |- (pyro2) (pyro) |- (tcoc);
\draw[br] (pyro2) |- (pya) (pyro2) |- (pyf);
\draw[br] (tcoc) |- (tcb) (tcoc) |- (tcoc2);
\draw[br] (tcoc2) |- (tck) (tcoc2) |- (tco);
\draw[br] (b95) |- (b90b) (b95) |- (b98b);
\draw[br] (b90b) |- (b99b) (b90b) |- (halo3);
\draw[br] (b99b) |- (ros3) (b99b) |- (rub);
\draw[br] (halo3) |- (nab) (halo3) |- (halo4);
\draw[br] (halo4) |- (hal2) (halo4) |- (hqw);
\draw[br] (b98b) |- (b73) (b98b) |- (b100b);
\draw[br] (b73) |- (myxo2) (b73) |- (b61b);
\draw[br] (myxo2) |- (ana3) (myxo2) |- (myx3);
\draw[br] (b61b) |- (bde) (b61b) |- (sol2);
\draw[br] (b100b) |- (b92b) (b100b) |- (b98c);
\draw[br] (b92b) |- (bacter1) (b92b) |- (bacter3);
\draw[br] (bacter1) |- (alg) (bacter1) |- (bacter2);
\draw[br] (bacter2) |- (cro) (bacter2) |- (gra);
\draw[br] (bacter3) |- (baf) (bacter3) |- (chlor);
\draw[br] (chlor) |- (chl) (chlor) |- (chh);
\draw[br] (b98c) |- (euk3) (b98c) |- (pcc);
\draw[br] (pcc) |- (p97) (pcc) |- (p64);
\draw[br] (p97) |- (mag) (p97) |- (p83);
\draw[br] (p83) |- (azo2) (p83) |- (p100);
\draw[br] (p100) |- (del2) (p100) |- (p79);
\draw[br] (p79) |- (pol) (p79) |- (ver3);
\draw[br] (p64) |- (rick) (p64) |- (p98);
\draw[br] (rick) |- (ana4) (rick) |- (ric);
\draw[br] (p98) |- (nov) (p98) |- (p92);
\draw[br] (p92) |- (p98b) (p92) |- (p98c);
\draw[br] (p98b) |- (azr) (p98b) |- (bre);
\draw[br] (p98c) |- (hoe) (p98c) |- (p69);
\draw[br] (p69) |- (rhz) (p69) |- (p65);
\draw[br] (p65) |- (prc) (p65) |- (sul);

% red mark on the Desulfurococcus pair
\draw[br, arch] (197,857.5) -| (desulf2) |- (197,868.2);

% ---------------- taxon labels on the right
\gone{sor1}{Deltaproteobacteria}
\gtwo{nat}{hal1}{29.2}{Euryarchaeota {\fontsize{11.5}{12}\selectfont(Haloarchaea)}}
\gone{aci1}{Actinobacteria}
\gtwo{ana1}{myx1}{66.9}{Deltaproteobacteria}
\gtwo{geo1}{oce}{93.8}{Firmicutes}
\gone{myc1}{Actinobacteria}
\gone{rue}{Alphaproteobacteria}
\gtwo{acd1}{rho1}{169.2}{Betaproteobacteria}
\gone{phe1}{Alphaproteobacteria}
\gtwo{del1}{ral1}{217.6}{Betaproteobacteria}
\gtwo{rhc1}{sac1}{239.2}{Actinobacteria}
\gone{phe2}{Alphaproteobacteria}
\gone{pse1}{Gammaproteobacteria}
\gtwo{bra2}{par}{282.2}{Alphaproteobacteria}
\gtwo{dei1}{the1}{303.8}{Deinococcus-Thermus}
\gtwo{sal}{fla}{336.1}{Bacteroidetes}
\gone{cup}{Betaproteobacteria}
\gone{ust}{{\fontsize{12}{13}\selectfont Fungi}}
\gtwo{sap}{sac2}{395.3}{Actinobacteria}
\gone{bra3}{Alphaproteobacteria}
\gone{ver2}{Betaproteobacteria}
\gone{myx2}{Deltaproteobacteria}
\gone{ocn}{Alphaproteobacteria}
\gtwo{acn}{pse2}{470.7}{Gammaproteobacteria}
\gone{ros1}{Chloroflexi}
\gone{ste}{Gammaproteobacteria}
\gtwo{thf1}{rhc2}{524.5}{Actinobacteria}
\gtwo{hyp}{met}{556.8}{Alphaproteobacteria}
\gtwo{azo1}{chr}{594.6}{Betaproteobacteria}
\gone{idi}{Gammaproteobacteria}
\gtwo{psv}{xan}{659.2}{Alphaproteobacteria}
\gone{ral2}{Betaproteobacteria}
\gone{rho2}{Alphaproteobacteria}
\gtwo{con}{pse3}{734.6}{Gammaproteobacteria}
\gone{lep}{Spirochaetes}
\gtwo{ana2}{sor2}{798.2}{Deltaproteobacteria}
\gtwo{sut}{stm}{841.3}{Crenarchaeota}
\gone{ros2}{Chloroflexi}
\gtwo{thf2}{stc1}{900.6}{Actinobacteria}
\gone{bav}{Bacteroidetes}
\gtwo{cen}{nit}{940.5}{{\fontsize{11}{11.5}\selectfont\begin{tabular}{@{}l@{}}Thaumarchaeota\\Crenarchaeota Group I\end{tabular}}}
\gtwo{aci2}{myc3}{959.9}{Actinobacteria}
\gtwo{eub}{rum}{986.8}{Firmicutes}
\gtwo{tro}{myc4}{1051.5}{Actinobacteria}
\gone{sym}{Firmicutes}
\gtwo{dso}{syn}{1121.6}{Deltaproteobacteria}
\gtwo{hel}{geo2}{1159.3}{Firmicutes}
\gtwo{dei2}{the2}{1197}{Deinococcus-Thermus}
\gone{opi}{Verrucomicrobia}
\gone{chf}{Chloroflexi}
\gone{sol1}{Acidobacteria}
\gtwo{cor3}{pro}{1250.9}{Actinobacteria}
\gtwo{pet}{mar}{1277.8}{Thermotogae}
\gone{tfp}{Crenarchaeota}
\gtwo{arg}{tco}{1337.2}{Euryarchaeota}
\gone{ros3}{Chloroflexi}
\gone{rub}{Actinobacteria}
\gtwo{nab}{hqw}{1407.2}{Euryarchaeota{\fontsize{11.5}{12}\selectfont(Haloarchaea)}}
\gtwo{ana3}{bde}{1439.5}{Deltaproteobacteria}
\gone{sol2}{Acidobacteria}
\gtwo{alg}{baf}{1488}{Bacteroidetes}
\gtwo{chl}{chh}{1520.4}{Chlorobi}
\gone{mag}{Alphaproteobacteria}
\gtwo{azo2}{ver3}{1591.8}{Betaproteobacteria}
\gtwo{ana4}{sul}{1661.3}{Alphaproteobacteria}

% ---------------- enzyme groups
\fill[mccgreen] (1047,489) rectangle (1060,778);
\node[bigtxt, text=mccgreen] (mcclab) at (1098,636) {MCC};
\fill[accred] (1047,813) rectangle (1060,876);
\node[bigtxt, text=accred] (acclab) at (1131,832) {ACC-PCC};
\node[bigtxt, text=accred, font=\fontsize{20}{22}\selectfont] (archlab) at (1124,858) {Archaea};
\fill[pccorange] (1042,1541) rectangle (1055,1705);
\node[bigtxt, text=pccorange] (pcclab) at (1090,1625) {PCC};

% scale bar
\draw[br] (22,1686) -- (98,1686) node[midway, above, bs] (scalelab) {0.3};
\end{tikzpicture}
\end{document}
